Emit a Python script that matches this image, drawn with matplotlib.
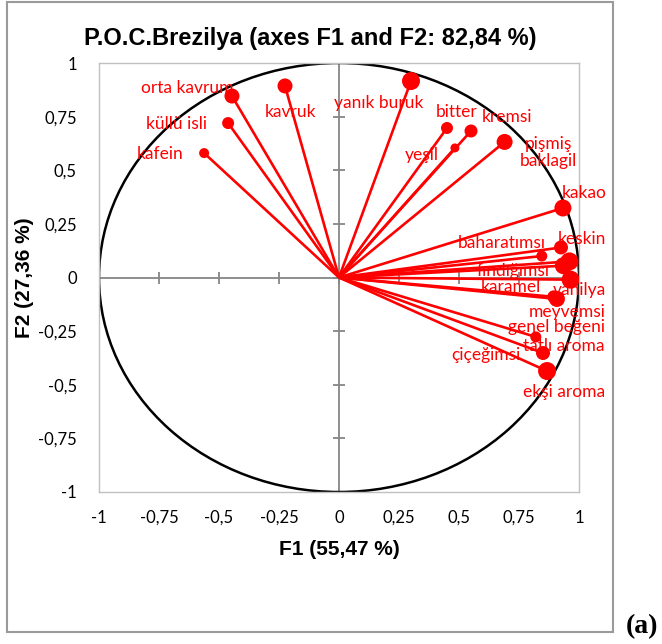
import matplotlib.pyplot as plt
from matplotlib.patches import Circle, Rectangle

# Değişken adları ve F1/F2 koordinatları (korelasyon dairesi)
variables = ['orta kavrum', 'kavruk', 'küllü isli', 'kafein', 'yanık buruk',
             'bitter', 'kremsi', 'yeşil', 'pişmiş\nbaklagil', 'kakao',
             'keskin', 'baharatımsı', 'fındığımsı', 'karamel', 'vanilya',
             'meyvemsi', 'çiçeğimsi', 'genel beğeni', 'tatlı aroma', 'ekşi aroma']
f1 = [-0.446, -0.225, -0.462, -0.562, 0.300,
      0.450, 0.550, 0.483, 0.690, 0.933,
      0.925, 0.845, 0.960, 0.935, 0.965,
      0.908, 0.895, 0.820, 0.850, 0.867]
f2 = [0.846, 0.893, 0.720, 0.580, 0.916,
      0.697, 0.683, 0.604, 0.632, 0.324,
      0.140, 0.100, 0.075, 0.055, -0.010,
      -0.100, -0.090, -0.277, -0.352, -0.436]

# nokta çapları (px) ve etiket konumları
sizes_px = [15, 15, 12, 10, 18, 12, 13, 9, 16, 17,
            14, 11, 18, 17, 18, 16, 13, 11, 14, 18]
label_xy = [(-0.633, 0.883), (-0.200, 0.772), (-0.675, 0.716), (-0.746, 0.576),
            (0.167, 0.814), (0.492, 0.772), (0.700, 0.748), (0.346, 0.571),
            (0.871, 0.583), (1.021, 0.394), (1.012, 0.179), (0.679, 0.161),
            (0.725, 0.031), (0.717, -0.044), (1.000, -0.058), (0.950, -0.161),
            (0.612, -0.361), (0.908, -0.231), (0.937, -0.319), (0.937, -0.534)]

ticks = [-1, -0.75, -0.5, -0.25, 0, 0.25, 0.5, 0.75, 1]
tick_labels = ['-1', '-0,75', '-0,5', '-0,25', '0', '0,25', '0,5', '0,75', '1']

fig = plt.figure(figsize=(6.62, 6.44), dpi=100)

# dış çerçeve
fig.patches.append(Rectangle((7 / 662, 1 - 632 / 644), 606 / 662, 630 / 644,
                             transform=fig.transFigure, fill=False,
                             edgecolor='#9A9A9A', linewidth=1.5))

ax = fig.add_axes([99 / 662, 1 - 492 / 644, 480 / 662, 429 / 644])
ax.set_xlim(-1, 1)
ax.set_ylim(-1, 1)
for s in ax.spines.values():
    s.set_color('#C0C0C0')
    s.set_linewidth(1)

ax.set_xticks(ticks)
ax.set_xticklabels(tick_labels)
ax.set_yticks(ticks)
ax.set_yticklabels(tick_labels)
ax.tick_params(length=0, labelsize=12, pad=13)
ax.tick_params(axis='y', pad=16)
for t in ax.get_xticklabels() + ax.get_yticklabels():
    t.set_fontfamily('Lato')

# eksenler sıfırdan geçiyor, kesişen tik işaretleri
gray = '#868686'
ax.axhline(0, color=gray, lw=1.3, zorder=1)
ax.axvline(0, color=gray, lw=1.3, zorder=1)
ax.plot(ticks, [0] * len(ticks), ls='none', marker='|', ms=8, mew=1.3, color=gray, zorder=1)
ax.plot([0] * len(ticks), ticks, ls='none', marker='_', ms=8, mew=1.3, color=gray, zorder=1)

ax.add_patch(Circle((0, 0), 1, fill=False, edgecolor='black', linewidth=1.8, zorder=2))

for x, y in zip(f1, f2):
    ax.plot([0, x], [0, y], color='#FF0000', lw=1.9, zorder=3, solid_capstyle='butt')
ax.scatter(f1, f2, s=[(d * 0.72) ** 2 for d in sizes_px], color='#FF0000',
           zorder=4, linewidths=0)

for name, (lx, ly) in zip(variables, label_xy):
    ax.text(lx, ly, name, color='#FF0000', fontsize=12.5, family='Lato',
            ha='center', va='center', zorder=5, linespacing=1.05)

fig.text(310 / 662, 1 - 38 / 644, 'P.O.C.Brezilya (axes F1 and F2: 82,84 %)',
         fontsize=17, fontweight='bold', family='Liberation Sans',
         ha='center', va='center')
ax.set_xlabel('F1 (55,47 %)', fontsize=15, fontweight='bold',
              family='Liberation Sans')
ax.set_ylabel('F2 (27,36 %)', fontsize=15, fontweight='bold',
              family='Liberation Sans')
ax.xaxis.set_label_coords(0.5, -0.112)
ax.yaxis.set_label_coords(-0.135, 0.5)

fig.text(642 / 662, 1 - 627 / 644, '(a)', fontsize=20, fontweight='bold',
         family='Liberation Serif', ha='center', va='center')

fig.savefig('out.png', dpi=100)
